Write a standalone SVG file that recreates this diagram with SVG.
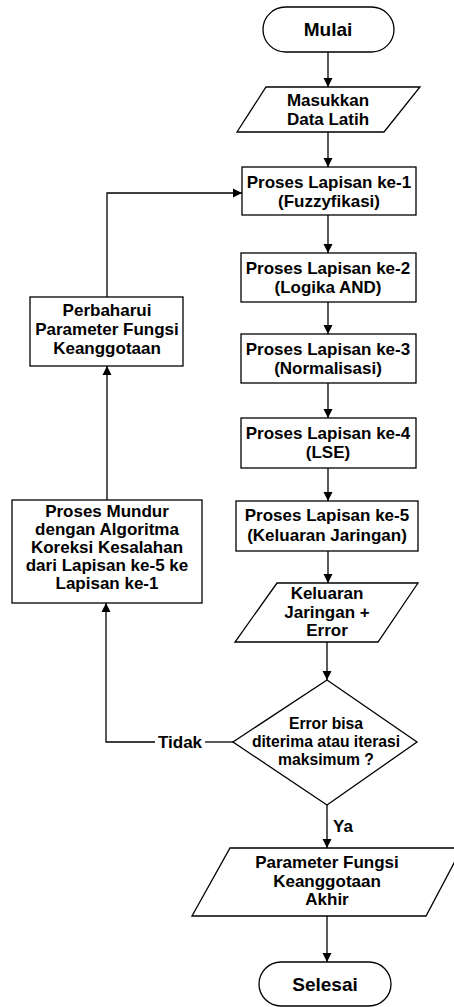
<svg xmlns="http://www.w3.org/2000/svg" width="454" height="1007" viewBox="0 0 454 1007">
<style>
.shape{fill:#fff;stroke:#000;stroke-width:1.3}
.t{font-family:"Liberation Sans",Arial,sans-serif;font-weight:bold;font-size:17px;fill:#000;text-anchor:middle}
.td{font-size:15.7px}
.tl{font-size:19px}
.c{fill:none;stroke:#000;stroke-width:1.3}
</style>
<defs>
<marker id="ah" markerWidth="10" markerHeight="10" refX="9" refY="5" orient="auto" markerUnits="userSpaceOnUse">
<path d="M0,0.5 L9,5 L0,9.5 Z" fill="#000"/>
</marker>
</defs>
<rect width="454" height="1007" fill="#fff"/>
<g id="connectors">
<line class="c" x1="328" y1="52" x2="328" y2="87" marker-end="url(#ah)"/>
<line class="c" x1="328" y1="132" x2="328" y2="167" marker-end="url(#ah)"/>
<line class="c" x1="328" y1="215" x2="328" y2="253" marker-end="url(#ah)"/>
<line class="c" x1="328" y1="302" x2="328" y2="334" marker-end="url(#ah)"/>
<line class="c" x1="328" y1="383" x2="328" y2="418" marker-end="url(#ah)"/>
<line class="c" x1="328" y1="468" x2="328" y2="501" marker-end="url(#ah)"/>
<line class="c" x1="328" y1="551" x2="328" y2="583" marker-end="url(#ah)"/>
<line class="c" x1="327" y1="642" x2="327" y2="680" marker-end="url(#ah)"/>
<line class="c" x1="327" y1="805" x2="327" y2="848" marker-end="url(#ah)"/>
<text class="t" x="343" y="832">Ya</text>
<line class="c" x1="327" y1="916" x2="327" y2="962" marker-end="url(#ah)"/>
<polyline class="c" points="233,742 205,742"/>
<text class="t" x="180" y="748">Tidak</text>
<polyline class="c" points="155,742 106,742 106,603" marker-end="url(#ah)"/>
<line class="c" x1="107" y1="500" x2="107" y2="366" marker-end="url(#ah)"/>
<polyline class="c" points="107,297 107,193 242,193" marker-end="url(#ah)"/>
</g>
<g id="mulai">
<rect class="shape" x="263" y="7" width="131" height="45" rx="22.5" ry="22.5"/>
<text class="t tl" x="328" y="36">Mulai</text>
</g>
<g id="masukkan">
<polygon class="shape" points="266,87 420,87 384,132 237,132"/>
<text class="t" x="328" y="106">Masukkan</text>
<text class="t" x="328" y="125">Data Latih</text>
</g>
<g id="lapisan1">
<rect class="shape" x="242" y="167" width="174" height="48"/>
<text class="t" x="329" y="188">Proses Lapisan ke-1</text>
<text class="t" x="329" y="207">(Fuzzyfikasi)</text>
</g>
<g id="lapisan2">
<rect class="shape" x="241" y="253" width="175" height="49"/>
<text class="t" x="328" y="274">Proses Lapisan ke-2</text>
<text class="t" x="328" y="293">(Logika AND)</text>
</g>
<g id="lapisan3">
<rect class="shape" x="241" y="334" width="175" height="49"/>
<text class="t" x="328" y="355">Proses Lapisan ke-3</text>
<text class="t" x="328" y="374">(Normalisasi)</text>
</g>
<g id="lapisan4">
<rect class="shape" x="241" y="418" width="175" height="50"/>
<text class="t" x="328" y="439">Proses Lapisan ke-4</text>
<text class="t" x="328" y="458">(LSE)</text>
</g>
<g id="lapisan5">
<rect class="shape" x="236" y="501" width="182" height="50"/>
<text class="t" x="327" y="521">Proses Lapisan ke-5</text>
<text class="t" x="327" y="541">(Keluaran Jaringan)</text>
</g>
<g id="keluaran">
<polygon class="shape" points="277,583 418,583 378,642 235,642"/>
<text class="t" x="327" y="599">Keluaran</text>
<text class="t" x="327" y="618">Jaringan +</text>
<text class="t" x="327" y="636">Error</text>
</g>
<g id="keputusan">
<polygon class="shape" points="327,680 417,742 327,805 233,742"/>
<text class="t td" x="326" y="729">Error bisa</text>
<text class="t td" x="326" y="747">diterima atau iterasi</text>
<text class="t td" x="326" y="765">maksimum ?</text>
</g>
<g id="akhir">
<polygon class="shape" points="230,848 462,848 426,916 192,916"/>
<text class="t" x="327" y="868">Parameter Fungsi</text>
<text class="t" x="327" y="887">Keanggotaan</text>
<text class="t" x="327" y="905">Akhir</text>
</g>
<g id="selesai">
<rect class="shape" x="259" y="962" width="132" height="44" rx="22" ry="22"/>
<text class="t tl" x="325" y="991">Selesai</text>
</g>
<g id="perbaharui">
<rect class="shape" x="30" y="297" width="153" height="69"/>
<text class="t" x="107" y="316">Perbaharui</text>
<text class="t" x="107" y="335">Parameter Fungsi</text>
<text class="t" x="107" y="354">Keanggotaan</text>
</g>
<g id="mundur">
<rect class="shape" x="12" y="500" width="190" height="103"/>
<text class="t" x="107" y="517">Proses Mundur</text>
<text class="t" x="107" y="535">dengan Algoritma</text>
<text class="t" x="107" y="553">Koreksi Kesalahan</text>
<text class="t" x="107" y="571">dari Lapisan ke-5 ke</text>
<text class="t" x="107" y="589">Lapisan ke-1</text>
</g>
</svg>
